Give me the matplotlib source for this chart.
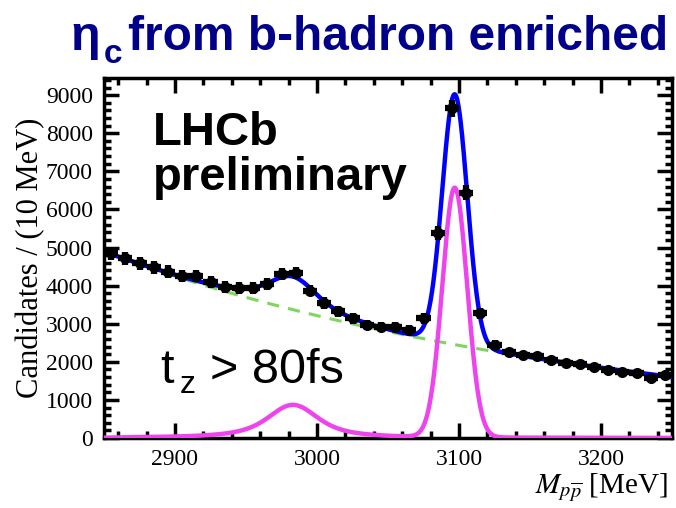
import numpy as np
import matplotlib
matplotlib.use("Agg")
import matplotlib.pyplot as plt
from matplotlib.ticker import MultipleLocator

plt.rcParams['font.family'] = ['Liberation Serif', 'DejaVu Serif']
plt.rcParams['mathtext.fontset'] = 'stix'

# binned data, 10 MeV bins
mass = [2855, 2865, 2875, 2885, 2895, 2905, 2915, 2925, 2935, 2945,
        2955, 2965, 2975, 2985, 2995, 3005, 3015, 3025, 3035, 3045,
        3055, 3065, 3075, 3085, 3095, 3105, 3115, 3125, 3135, 3145,
        3155, 3165, 3175, 3185, 3195, 3205, 3215, 3225, 3235, 3245]
counts = [4850, 4720, 4590, 4480, 4370, 4250, 4250, 4100, 3970, 3950,
          3930, 4040, 4310, 4330, 3870, 3540, 3330, 3140, 2970, 2920,
          2920, 2840, 3140, 5370, 8650, 6440, 3270, 2440, 2250, 2180,
          2150, 2050, 1960, 1940, 1870, 1790, 1740, 1700, 1570, 1650]

# fit components
bkg_lo, bkg_hi = 4880, 1600          # background at 2850 and 3250 MeV
etac_m, etac_h, etac_G, etac_s = 2983, 870, 32, 9
jpsi_m, jpsi_h, jpsi_s = 3097, 6550, 8.8

mass = np.array(mass)
counts = np.array(counts)
x = np.linspace(2850, 3250, 2001)

bkg = bkg_lo * np.exp(np.log(bkg_hi / bkg_lo) * (x - 2850) / 400)

# eta_c: Breit-Wigner smeared by resolution
k = np.arange(-60, 60.01, 0.2)
gau = np.exp(-0.5 * (k / etac_s) ** 2)
bw = 1 / ((x - etac_m) ** 2 + (etac_G / 2) ** 2)
etac = np.convolve(bw, gau / gau.sum(), mode='same')
etac = etac / etac.max() * etac_h
jpsi = jpsi_h * np.exp(-0.5 * ((x - jpsi_m) / jpsi_s) ** 2)
total = bkg + etac + jpsi

fig = plt.figure(figsize=(6.76, 5.08), dpi=100)
ax = fig.add_axes([104 / 676, 70 / 508, 568 / 676, 360 / 508])

ax.plot(x, bkg, color='#7fd65f', lw=2.2, ls=(0, (4, 3)), zorder=2)
ax.plot(x, etac + jpsi, color='#ee44ee', lw=3.2, zorder=3)
ax.plot(x, total, color='#0000ff', lw=3.2, zorder=4)
ax.errorbar(mass, counts, xerr=5, yerr=np.sqrt(counts) * 2.5, fmt='o', color='black',
            markersize=7, elinewidth=4.5, capsize=0, zorder=5)

ax.set_xlim(2850, 3250)
ax.set_ylim(0, 9450)
ax.xaxis.set_major_locator(MultipleLocator(100))
ax.xaxis.set_minor_locator(MultipleLocator(20))
ax.yaxis.set_major_locator(MultipleLocator(1000))
ax.yaxis.set_minor_locator(MultipleLocator(200))
ax.tick_params(which='both', direction='in', top=True, right=True, width=2.5, labelsize=17)
ax.tick_params(which='major', length=11)
ax.tick_params(which='minor', length=5)
ax.tick_params(axis='y', pad=8)
ax.tick_params(axis='x', pad=8)
for s in ax.spines.values():
    s.set_linewidth(2.5)

ax.set_ylabel('Candidates / (10 MeV)', fontsize=22)
ax.yaxis.set_label_coords(-0.104, 0.5)
fig.text(668 / 676, 14 / 508, r'$M_{p\overline{p}}$ [MeV]', ha='right', va='baseline', fontsize=21)

sans = ['Liberation Sans', 'DejaVu Sans']
ax.text(153 / 676, 1 - 145 / 508, 'LHCb', transform=fig.transFigure, family=sans,
        fontsize=34, fontweight='bold', va='baseline')
ax.text(153 / 676, 1 - 190 / 508, 'preliminary', transform=fig.transFigure, family=sans,
        fontsize=34, fontweight='bold', va='baseline')
fig.text(160 / 676, 1 - 383 / 508, 't', family=sans, fontsize=35, va='baseline')
fig.text(180 / 676, 1 - 393 / 508, 'z', family=sans, fontsize=23, va='baseline')
fig.text(210 / 676, 1 - 383 / 508, '> 80fs', family=sans, fontsize=35, va='baseline')

navy = '#000088'
fig.text(70 / 676, 1 - 50 / 508, 'η', family=sans, fontsize=35, fontweight='bold',
         color=navy, va='baseline')
fig.text(104 / 676, 1 - 63 / 508, 'c', family=sans, fontsize=24, fontweight='bold',
         color=navy, va='baseline')
fig.text(668 / 676, 1 - 50 / 508, 'from b-hadron enriched', family=sans, fontsize=34.5,
         fontweight='bold', color=navy, va='baseline', ha='right')

fig.savefig('out.png', dpi=100)
